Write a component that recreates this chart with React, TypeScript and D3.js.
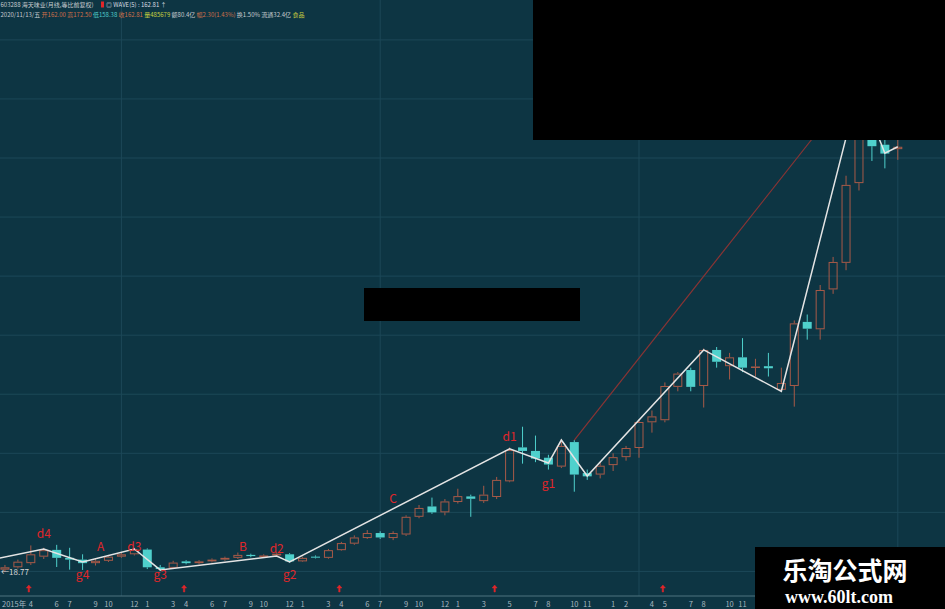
import React from 'react';
import * as d3 from 'd3';

// ---- Data (monthly K-line, 603288 海天味业, 等比前复权) ----
const months = [
  '2015-02','2015-03','2015-04','2015-05','2015-06','2015-07','2015-08','2015-09','2015-10','2015-11','2015-12',
  '2016-01','2016-02','2016-03','2016-04','2016-05','2016-06','2016-07','2016-08','2016-09','2016-10','2016-11','2016-12',
  '2017-01','2017-02','2017-03','2017-04','2017-05','2017-06','2017-07','2017-08','2017-09','2017-10','2017-11','2017-12',
  '2018-01','2018-02','2018-03','2018-04','2018-05','2018-06','2018-07','2018-08','2018-09','2018-10','2018-11','2018-12',
  '2019-01','2019-02','2019-03','2019-04','2019-05','2019-06','2019-07','2019-08','2019-09','2019-10','2019-11','2019-12',
  '2020-01','2020-02','2020-03','2020-04','2020-05','2020-06','2020-07','2020-08','2020-09','2020-10','2020-11'
];
const open = [
  19.6,20.4,21.8,24.0,26.3,23.6,23.0,21.8,22.6,24.0,24.8,
  26.4,20.4,20.2,22.4,21.8,22.4,23.0,23.6,24.6,24.2,24.4,24.8,
  22.4,24.0,23.6,26.2,28.4,30.3,32.0,30.3,31.5,37.5,41.0,39.0,
  42.5,44.4,42.8,44.2,49.5,61.0,59.8,57.5,54.5,62.8,52.3,51.8,
  55.0,57.7,60.8,69.5,70.2,81.5,87.2,81.8,94.0,88.5,91.5,88.0,
  88.5,80.5,81.8,103.5,101.0,114.5,123.5,150.5,172.0,163.5,162.0
];
const high = [
  21.2,23.0,27.8,27.0,28.0,27.0,24.8,23.2,24.6,25.6,27.0,
  26.8,21.2,22.6,22.8,22.8,23.4,24.0,25.4,25.0,24.8,25.4,25.2,
  24.0,24.4,26.6,29.0,31.2,33.0,32.6,32.6,38.0,41.5,44.0,43.5,
  47.0,45.0,48.0,51.0,61.0,68.0,65.0,58.5,63.8,63.5,53.5,56.0,
  59.0,61.5,70.5,73.5,83.0,86.5,88.0,94.5,95.0,93.0,98.0,91.0,
  93.0,88.0,104.0,106.0,116.0,125.5,153.0,183.0,178.0,170.0,172.5
];
const low = [
  18.77,20.0,21.2,23.2,20.5,19.6,19.5,21.0,22.2,23.6,24.4,
  19.8,19.2,19.8,21.4,21.4,22.0,22.6,23.2,23.8,23.8,24.0,22.0,
  22.2,23.4,23.3,26.0,28.0,30.0,30.0,29.6,31.0,37.0,38.5,38.0,
  42.0,37.5,42.2,43.5,49.2,55.5,56.0,53.5,54.0,46.0,50.0,50.5,
  53.0,56.5,57.5,66.0,69.5,80.0,80.0,74.5,88.0,84.0,86.5,85.0,
  85.0,79.8,74.8,97.5,97.5,113.0,121.0,148.0,158.0,155.5,158.38
];
const close = [
  20.4,22.3,24.8,26.2,23.6,23.0,21.8,22.6,24.0,24.8,26.4,
  20.4,19.8,22.0,21.8,22.4,23.0,23.6,24.6,24.2,24.4,25.0,22.4,
  23.6,23.7,26.2,28.6,30.5,32.0,30.5,32.0,37.5,40.5,39.0,42.7,
  44.5,43.6,45.0,50.0,60.1,59.8,57.2,55.2,61.5,51.8,51.2,54.8,
  57.7,60.8,69.6,71.5,81.8,86.0,81.5,94.0,90.0,91.5,88.0,88.4,
  87.8,82.8,103.0,101.2,114.3,123.8,149.9,172.0,163.0,160.5,162.81
];

// WAVE(5) zigzag vertices
const waveMonths = ['2015-01','2015-05','2015-08','2015-12','2016-02','2016-11','2016-12','2018-05','2018-08','2018-09','2018-11','2019-08','2020-02','2020-08','2020-10','2020-11'];
const waveValues = [23.0, 26.6, 22.2, 26.6, 19.5, 24.2, 22.2, 60.5, 55.7, 63.5, 51.3, 94.0, 80.0, 183.0, 160.6, 162.81];

// Wave labels
const labelText = ['d4','A','g4','d3','g3','B','d2','g2','C','d1','g1'];
const labelMonths = ['2015-05','2015-09.4','2015-08','2015-12','2016-02','2016-08.4','2016-11','2016-12','2017-08','2018-05','2018-08'];
const labelValues = [31.5, 27.0, 17.5, 27.0, 17.5, 27.0, 26.5, 17.5, 43.3, 64.3, 48.3];

// Red trend line
const trendMonths = ['2018-10', '2020-07'];
const trendValues = [63.5, 180.0];

// Ex-rights markers
const markMonths = ['2015-04','2016-04','2017-04','2018-04','2019-05'];

// x-axis labels
const axisMonths = [
  '2015-04','2015-06','2015-07','2015-09','2015-10','2015-12',
  '2016-01','2016-03','2016-04','2016-06','2016-07','2016-09','2016-10','2016-12',
  '2017-01','2017-03','2017-04','2017-06','2017-07','2017-09','2017-10','2017-12',
  '2018-01','2018-03','2018-05','2018-07','2018-08','2018-10','2018-11',
  '2019-01','2019-02','2019-04','2019-05','2019-07','2019-08','2019-10','2019-11'
];

// horizontal grid values and vertical grid months
const gridValues = [19, 39, 59, 79, 99, 119, 139, 159, 179, 199];
const vGridMonths = ['2015-11','2017-07','2019-03','2020-11'];

// header line 2 segments: text, colour
const header2 = [
  { t: '2020/11/13/五 ', c: '#c8ccd0' },
  { t: '开162.00 ', c: '#d0704a' },
  { t: '高172.50 ', c: '#d0704a' },
  { t: '低158.38 ', c: '#4fc8c8' },
  { t: '收162.81 ', c: '#d0704a' },
  { t: '量485679 ', c: '#c8d040' },
  { t: '额80.4亿 ', c: '#c8ccd0' },
  { t: '幅2.30(1.43%) ', c: '#d0704a' },
  { t: '换1.50% ', c: '#c8ccd0' },
  { t: '流通32.4亿 ', c: '#c8ccd0' },
  { t: '食品', c: '#c8d040' },
];

const monthIndex = (s: string) => {
  const [y, m] = s.split('-');
  return (+y - 2015) * 12 + (+m - 1);
};

const W = 945, H = 609;
const x = d3.scaleLinear().domain([0, 70]).range([-8, 897.8]);
const y = d3.scaleLinear().domain([10, 180]).range([598, 96]);

const BG = '#0d3543';
const GRID = '#1c4858';
const UP = '#a85a48';
const DOWN = '#4fd0cc';
const RED = '#e0262a';

export default function App() {
  const bw = 9;
  const candles = months.map((mo, i) => {
    const cx = x(monthIndex(mo));
    const o = open[i], c = close[i], h = high[i], l = low[i];
    const up = c >= o;
    const col = up ? UP : DOWN;
    const top = y(Math.max(o, c));
    const bot = y(Math.min(o, c));
    const bh = Math.max(1, bot - top);
    return (
      <g key={mo}>
        <line x1={cx} x2={cx} y1={y(h)} y2={top} stroke={col} strokeWidth={1} />
        <line x1={cx} x2={cx} y1={top + bh} y2={y(l)} stroke={col} strokeWidth={1} />
        {up ? (
          <rect x={cx - bw / 2 + 0.5} y={top + 0.5} width={bw - 1} height={Math.max(0.5, bh - 1)} fill="none" stroke={col} strokeWidth={1} />
        ) : (
          <rect x={cx - bw / 2} y={top} width={bw} height={bh} fill={col} />
        )}
      </g>
    );
  });

  const waveLine = d3.line<number>()
    .x((_, i) => x(monthIndex(waveMonths[i])))
    .y((v) => y(v))(waveValues) as string;

  const trendLine = d3.line<number>()
    .x((_, i) => x(monthIndex(trendMonths[i])))
    .y((v) => y(v))(trendValues) as string;

  const labelX = (s: string) => {
    const [yy, mm] = s.split('-');
    return x((+yy - 2015) * 12 + (+mm - 1));
  };

  const axisY = 596;
  const font = '"Noto Sans CJK SC", "Noto Sans", sans-serif';

  return (
    <svg width={W} height={H} style={{ position: 'absolute', left: 0, top: 0, display: 'block' }} fontFamily={font}>
      <rect x={0} y={0} width={W} height={H} fill={BG} />
      {gridValues.map((g) => (
        <line key={'h' + g} x1={0} x2={W} y1={y(g)} y2={y(g)} stroke={GRID} strokeWidth={1} />
      ))}
      {vGridMonths.map((m) => (
        <line key={'v' + m} x1={x(monthIndex(m))} x2={x(monthIndex(m))} y1={0} y2={axisY} stroke={GRID} strokeWidth={1} />
      ))}

      {candles}

      <path d={trendLine} fill="none" stroke="#8a3434" strokeWidth={1.2} />
      <path d={waveLine} fill="none" stroke="#e4e4e4" strokeWidth={1.5} />

      {labelText.map((t, i) => (
        <text key={t} x={labelX(labelMonths[i])} y={y(labelValues[i])} fill={RED} fontSize={12} textAnchor="middle" dominantBaseline="middle">{t}</text>
      ))}

      {/* low marker */}
      <text x={1} y={575} fill="#d8d8d8" fontSize={8}>←18.77</text>

      {/* x axis */}
      <line x1={0} x2={W} y1={axisY} y2={axisY} stroke="#4e7480" strokeWidth={1} />
      <text x={2} y={607} fill="#a8b8c0" fontSize={7.5}>2015年</text>
      {axisMonths.map((m) => (
        <text key={'a' + m} x={x(monthIndex(m))} y={607} fill="#a8b8c0" fontSize={7.5} textAnchor="middle">{+m.split('-')[1]}</text>
      ))}
      {markMonths.map((m) => {
        const cx = x(monthIndex(m)) - 2;
        return (
          <g key={'mk' + m} fill={RED} stroke={RED}>
            <path d={`M${cx},585 l-2.5,3 h1.8 v4 h1.4 v-4 h1.8 z`} strokeWidth={0.5} />
          </g>
        );
      })}

      {/* header */}
      <text x={0.5} y={7} fontSize={6} fill="#c8ccd0">603288 海天味业(月线,等比前复权)</text>
      <rect x={101} y={1.5} width={3} height={6} fill={RED} />
      <text x={106} y={7} fontSize={6} fill="#d8dce0">◎ WAVE(5) : 162.81 ↑</text>
      <text x={0.5} y={17} fontSize={6}>
        {header2.map((s) => (
          <tspan key={s.t} fill={s.c}>{s.t}</tspan>
        ))}
      </text>

      {/* redaction boxes */}
      <rect x={533} y={0} width={412} height={140} fill="#000" />
      <rect x={364} y={288} width={216} height={33} fill="#000" />

      {/* watermark */}
      <rect x={755} y={547} width={190} height={62} fill="#000" />
      <text x={845} y={580} fill="#fff" fontSize={25} fontWeight="bold" textAnchor="middle" fontFamily='"Noto Sans CJK SC", sans-serif'>乐淘公式网</text>
      <text x={839} y={603} fill="#fff" fontSize={18} fontWeight="bold" textAnchor="middle" fontFamily='"Liberation Serif", "DejaVu Serif", serif'>www.60lt.com</text>
    </svg>
  );
}
